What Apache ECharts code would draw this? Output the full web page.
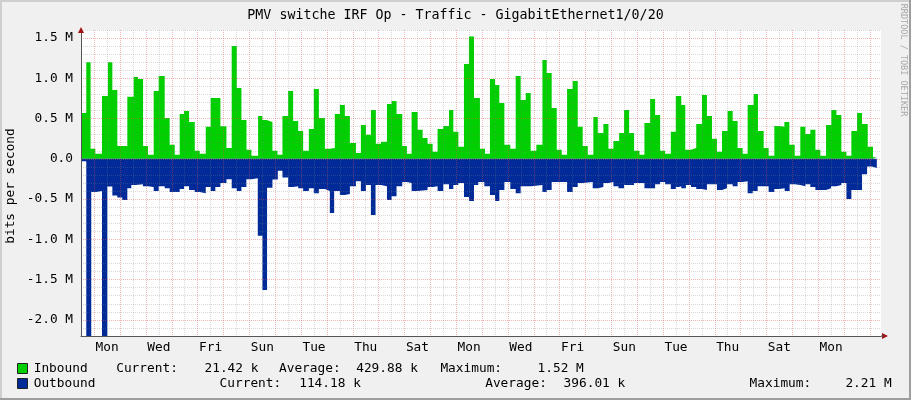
<!DOCTYPE html>
<html><head><meta charset="utf-8">
<script src="https://cdn.jsdelivr.net/npm/echarts@6/dist/echarts.min.js"></script>
<style>html,body{margin:0;padding:0;background:#F0F0F0;}#c{width:911px;height:400px;}</style>
</head><body><div id="c"></div>
<script>
// ---- text ----
const chartTitle = 'PMV switche IRF Op - Traffic - GigabitEthernet1/0/20';
const yAxisTitle = 'bits per second';
const watermark = 'RRDTOOL / TOBI OETIKER';
// x labels: one label every second day, placed at noon (hours since first Monday 00:00)
const dayLabels = ['Mon','Wed','Fri','Sun','Tue','Thu','Sat','Mon','Wed','Fri','Sun','Tue','Thu','Sat','Mon'];
// y ticks (Mbit/s) and their labels
const yTickValues = [-2, -1.5, -1, -0.5, 0, 0.5, 1, 1.5];
const yTickLabels = ['-2.0 M','-1.5 M','-1.0 M','-0.5 M','0.0','0.5 M','1.0 M','1.5 M'];
// legend rows
const legendIn  = ['Inbound', 'Current:', '21.42 k', 'Average:', '429.88 k', 'Maximum:', '1.52 M'];
const legendOut = ['Outbound', 'Current:', '114.18 k', 'Average:', '396.01 k', 'Maximum:', '2.21 M'];

// ---- data: step start time (hours from first Monday 00:00) and value (Mbit/s) ----
const inT = [-12.3,-11.4,-7.4,-3.4,1.0,7.2,12.7,16.8,21.4,30.7,36.6,40.6,45.3,49.9,55.2,59.8,65.4,70.0,74.7,79.3,83.3,88.0,93.3,97.9,103.5,108.1,117.1,122.7,127.6,132.3,136.6,141.3,145.9,152.1,156.1,159.9,165.4,170.1,174.7,180.0,184.6,189.3,193.9,199.2,203.8,208.5,214.1,218.7,223.3,228.0,232.6,237.3,242.9,247.5,252.2,256.8,261.4,266.1,271.7,276.0,280.6,285.9,290.2,294.6,300.2,304.8,309.4,314.1,318.7,324.0,329.3,333.3,338.0,343.2,347.8,352.5,358.0,362.7,367.3,372.0,376.0,380.7,386.2,391.2,395.8,400.5,405.1,410.4,416.0,420.0,424.6,429.3,433.9,438.9,444.1,448.8,453.4,458.1,463.3,467.4,472.6,477.3,481.9,487.2,491.8,496.5,501.1,506.1,510.7,516.0,520.6,525.3,529.9,535.2,539.8,544.9,548.6,553.9,558.8,564.1,568.7,573.4,578.0,582.7,587.9,592.6,597.2,601.9,606.5,612.1,616.1,621.4,626.0,631.3,636.2,640.6,645.2,650.2,655.4,660.1,664.7,669.4,674.0,679.3,684.2,688.9,693.5,698.2,702.8,708.1,712.7,718.0,722.9,726.4];
const inV = [0.67,0.57,1.20,0.124,0.062,0.78,1.20,0.855,0.161,0.77,1.017,0.99,0.161,0.05,0.843,1.03,0.508,0.174,0.05,0.558,0.595,0.459,0.099,0.062,0.397,0.756,0.405,0.136,1.40,0.88,0.483,0.112,0.037,0.533,0.483,0.459,0.099,0.05,0.533,0.843,0.471,0.347,0.099,0.372,0.868,0.508,0.124,0.136,0.558,0.669,0.533,0.198,0.074,0.421,0.298,0.607,0.186,0.211,0.682,0.719,0.558,0.161,0.062,0.583,0.36,0.26,0.186,0.087,0.372,0.409,0.607,0.335,0.149,1.178,1.52,0.756,0.124,0.062,0.992,0.917,0.694,0.174,0.124,1.029,0.731,0.818,0.099,0.174,1.227,1.066,0.632,0.112,0.05,0.868,0.967,0.397,0.161,0.05,0.521,0.322,0.434,0.124,0.223,0.322,0.607,0.322,0.099,0.05,0.446,0.744,0.545,0.099,0.062,0.335,0.781,0.669,0.112,0.136,0.434,0.793,0.533,0.248,0.087,0.347,0.595,0.471,0.136,0.062,0.669,0.806,0.347,0.136,0.037,0.409,0.397,0.459,0.174,0.037,0.397,0.31,0.36,0.112,0.037,0.421,0.607,0.545,0.087,0.037,0.347,0.57,0.434,0.149,0.021,0.021];

const outT = [-12.3,-7.4,-2.8,1.9,7.2,12.1,16.8,21.4,26.0,30.7,34.4,38.1,45.2,49.9,55.2,59.8,65.4,70.0,79.3,83.3,88.0,93.2,97.9,103.5,108.1,112.4,117.1,122.7,127.6,132.3,136.6,141.2,145.9,151.8,156.1,160.4,165.4,170.4,174.7,180.0,184.6,189.3,193.9,199.2,203.8,208.5,214.1,218.7,222.7,228.0,232.6,237.3,242.9,247.5,252.2,256.8,261.1,266.1,271.7,276.0,280.6,285.9,290.2,294.6,300.2,309.4,314.1,318.7,324.0,329.3,333.3,338.0,343.2,347.8,352.5,356.5,362.1,367.3,372.0,376.0,380.7,386.2,391.2,395.8,405.1,416.0,420.0,424.6,438.9,444.1,448.8,453.4,462.7,467.4,472.6,477.3,481.9,486.6,491.8,501.1,510.7,520.6,525.3,529.9,535.2,539.8,542.4,544.9,549.2,553.9,558.8,564.1,568.7,578.0,582.7,587.3,592.6,597.2,601.9,606.5,611.2,615.8,626.0,631.3,635.9,640.9,645.5,650.2,655.4,660.1,664.7,669.4,679.3,683.9,688.6,693.5,698.2,702.8,712.7,717.4,722.0,726.4];
const outV = [0.03,2.21,0.413,0.40,2.21,0.343,0.455,0.48,0.512,0.364,0.326,0.314,0.339,0.35,0.40,0.339,0.364,0.413,0.376,0.339,0.388,0.413,0.426,0.35,0.40,0.35,0.30,0.252,0.364,0.40,0.35,0.252,0.24,0.955,1.63,0.36,0.256,0.147,0.231,0.351,0.339,0.364,0.40,0.364,0.426,0.376,0.40,0.674,0.40,0.45,0.438,0.339,0.277,0.40,0.326,0.698,0.326,0.339,0.512,0.463,0.339,0.289,0.30,0.40,0.388,0.351,0.339,0.40,0.314,0.376,0.326,0.30,0.475,0.525,0.326,0.289,0.339,0.45,0.525,0.388,0.289,0.376,0.426,0.339,0.326,0.413,0.388,0.289,0.413,0.351,0.30,0.289,0.364,0.351,0.30,0.289,0.339,0.364,0.326,0.30,0.364,0.314,0.289,0.314,0.376,0.351,0.339,0.364,0.326,0.351,0.376,0.388,0.314,0.388,0.364,0.314,0.339,0.289,0.277,0.426,0.40,0.339,0.413,0.376,0.364,0.40,0.314,0.326,0.339,0.314,0.351,0.388,0.364,0.339,0.326,0.30,0.50,0.388,0.19,0.095,0.114,0.114];

// ---- build ----
const FONT = 'DejaVu Sans Mono';
const xMin = -12.3, xMax = 730.3;
const yMin = -2.2, yMax = 1.6;
const midnights = []; for (let h = 0; h <= xMax; h += 24) midnights.push(h);
const noons = []; for (let h = -12; h <= xMax; h += 24) if (h >= xMin) noons.push(h);
const labelHours = dayLabels.map((_, i) => 12 + 48 * i);
const minorY = []; for (let i = -22; i <= 16; i++) if (i % 5 !== 0) minorY.push(i / 10);

const inData = inT.map((t, i) => [t, inV[i]]);
const outData = outT.map((t, i) => [t, -outV[i]]);

const majorColor = 'rgba(222,80,80,0.42)';
const minorColor = 'rgba(130,130,130,0.3)';

const chart = echarts.init(document.getElementById('c'), null, {renderer: 'canvas'});
const legendRow = (items, xs, y, color) => {
  const els = [{type:'rect', shape:{x:17.5, y:y-5.5, width:10, height:10}, style:{fill:color, stroke:'#222', lineWidth:1}}];
  items.forEach((t, i) => els.push({type:'text', x:xs[i], y:y, style:{text:t, font:'12.8px "'+FONT+'"', fill:'#000', verticalAlign:'middle', align:'left'}}));
  return els;
};
chart.setOption({
  animation: false,
  backgroundColor: '#F0F0F0',
  title: {text: chartTitle, left: 'center', top: 4, textStyle: {fontFamily: FONT, fontSize: 13.3, fontWeight: 'normal', color: '#000'}},
  grid: {left: 81, top: 30, width: 800, height: 306, containLabel: false, outerBoundsMode: 'none', backgroundColor: '#FFFFFF', show: true, borderWidth: 0},
  xAxis: [
    {type:'value', min:xMin, max:xMax, position:'bottom', z:5,
     axisLine:{show:true, onZero:false, lineStyle:{color:'#555', width:1}},
     axisTick:{show:false, customValues: midnights},
     axisLabel:{show:false},
     splitLine:{show:true, lineStyle:{color:majorColor, type:[1,1], width:1}}},
    {type:'value', min:xMin, max:xMax, position:'bottom', z:4,
     axisLine:{show:false},
     axisTick:{show:false, customValues: noons},
     axisLabel:{show:true, customValues: labelHours, margin: 5, fontFamily: FONT, fontSize: 12.8, color:'#000',
       formatter: v => { const i = labelHours.indexOf(Math.round(v)); return i >= 0 ? dayLabels[i] : ''; }},
     splitLine:{show:true, lineStyle:{color:minorColor, type:[1,1], width:1}}}
  ],
  yAxis: [
    {type:'value', min:yMin, max:yMax, z:5,
     axisLine:{show:true, onZero:false, lineStyle:{color:'#555', width:1}},
     axisTick:{show:false, customValues: yTickValues},
     axisLabel:{show:true, customValues: yTickValues, margin: 8, fontFamily: FONT, fontSize: 12.8, color:'#000',
       formatter: v => { const i = yTickValues.findIndex(t => Math.abs(t - v) < 1e-6); return i >= 0 ? yTickLabels[i] : ''; }},
     splitLine:{show:true, lineStyle:{color:majorColor, type:[1,1], width:1}}},
    {type:'value', min:yMin, max:yMax, position:'left', z:4,
     axisLine:{show:false}, axisLabel:{show:false},
     axisTick:{show:false, customValues: minorY},
     splitLine:{show:true, lineStyle:{color:minorColor, type:[1,1], width:1}}}
  ],
  series: [
    {name:'Inbound', type:'line', step:'end', data: inData, symbol:'none', z:2,
     lineStyle:{width:0}, itemStyle:{color:'#00CF00'}, areaStyle:{color:'#00CF00', opacity:1, origin:0}},
    {name:'Outbound', type:'line', step:'end', data: outData, symbol:'none', z:2,
     lineStyle:{width:0}, itemStyle:{color:'#002A97'}, areaStyle:{color:'#002A97', opacity:1, origin:0}}
  ],
  graphic: [
    {type:'rect', shape:{x:0,y:0,width:911,height:2}, style:{fill:'#CFCFCF'}},
    {type:'rect', shape:{x:0,y:0,width:2,height:400}, style:{fill:'#CFCFCF'}},
    {type:'rect', shape:{x:909,y:0,width:2,height:400}, style:{fill:'#9E9E9E'}},
    {type:'rect', shape:{x:0,y:398,width:911,height:2}, style:{fill:'#9E9E9E'}},
    {type:'polygon', shape:{points:[[81,27],[78,33],[84,33]]}, style:{fill:'#A01010'}, z:10},
    {type:'polygon', shape:{points:[[888,336],[882,333],[882,339]]}, style:{fill:'#A01010'}, z:10},
    {type:'line', shape:{x1:881,y1:336,x2:884,y2:336}, style:{stroke:'#555', lineWidth:1}, z:10},
    {type:'text', x:11, y:186, rotation:Math.PI/2, style:{text:yAxisTitle, font:'12.8px "'+FONT+'"', fill:'#000', align:'center', verticalAlign:'middle'}},
    {type:'text', x:903, y:60, rotation:-Math.PI/2, style:{text:watermark, font:'8.5px "'+FONT+'"', fill:'#A8A8A8', align:'center', verticalAlign:'middle'}},
    ...legendRow(legendIn, [33.7, 116.2, 204.5, 279, 356.2, 440.4, 537.6], 369, '#00CF00'),
    ...legendRow(legendOut, [33.7, 219.6, 299.2, 485.2, 563.6, 749.6, 845.4], 384, '#002A97')
  ]
});
</script></body></html>
